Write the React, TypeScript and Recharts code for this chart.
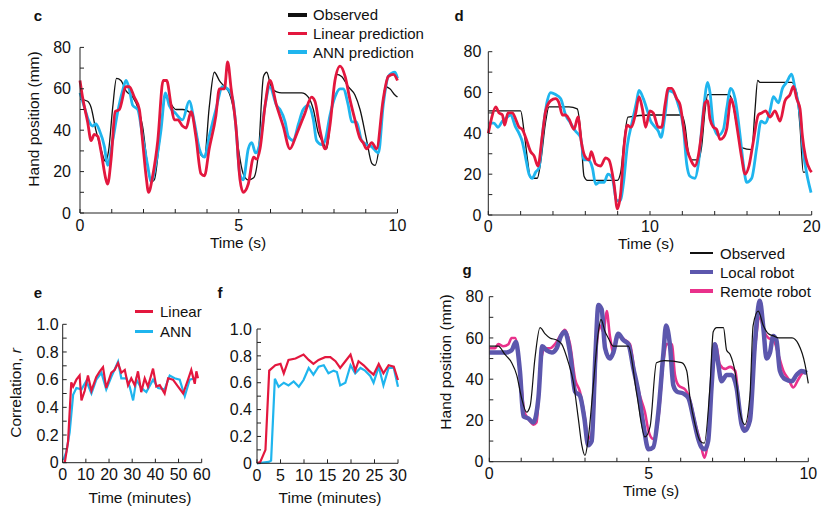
import React from 'react';
import { LineChart, Line, XAxis, YAxis, Legend } from 'recharts';

// ---- panel c: hand position, 10 s ----
const cObsT = [0, 0.24, 0.35, 0.5, 0.66, 0.8, 0.9, 1.03, 1.15, 1.29, 1.45, 1.66, 1.82, 1.97, 2.13, 2.24, 2.34, 2.5, 2.69, 2.81, 3.02, 3.23, 3.5, 3.65, 3.81, 3.92, 4.07, 4.23, 4.39, 4.55, 4.7, 4.86, 5.0, 5.14, 5.3, 5.47, 5.62, 5.78, 5.88, 6.04, 6.35, 6.98, 7.19, 7.35, 7.5, 7.66, 7.77, 7.93, 8.08, 8.24, 8.45, 8.66, 8.82, 9.03, 9.19, 9.29, 9.45, 9.61, 9.76, 9.92, 10];
const cObsV = [55, 54, 51, 40, 31, 25, 30, 51, 65, 64, 59, 56, 51, 42, 23, 15, 16, 34, 56, 54, 50, 50, 48, 40, 28, 27, 51, 68, 64, 61, 58, 48, 30, 19, 16, 17, 29, 66, 68, 60, 58, 58, 56, 50, 39, 34, 31, 51, 67, 66, 61, 57, 50, 35, 24, 23, 35, 61, 60, 57, 56];
const cLinT = [0, 0.08, 0.24, 0.35, 0.45, 0.56, 0.66, 0.82, 0.87, 0.98, 1.11, 1.24, 1.45, 1.55, 1.71, 1.87, 1.97, 2.08, 2.16, 2.29, 2.45, 2.62, 2.73, 2.87, 2.97, 3.08, 3.23, 3.34, 3.5, 3.65, 3.81, 3.92, 4.07, 4.28, 4.39, 4.55, 4.65, 4.76, 4.91, 5.04, 5.14, 5.3, 5.47, 5.57, 5.67, 5.83, 5.98, 6.19, 6.4, 6.61, 6.82, 7.08, 7.29, 7.4, 7.56, 7.72, 7.87, 8.03, 8.19, 8.35, 8.5, 8.66, 8.82, 8.92, 9.03, 9.19, 9.34, 9.55, 9.71, 9.87, 10];
const cLinV = [64, 56, 44, 35, 38, 37, 30, 16, 14, 26, 49, 50, 61, 61, 56, 50, 35, 18, 10, 18, 35, 64, 64, 52, 45, 45, 42, 41, 49, 37, 19, 18, 31, 47, 60, 60, 73, 60, 42, 16, 10, 14, 27, 26, 31, 52, 64, 52, 42, 31, 38, 48, 56, 54, 40, 31, 42, 64, 71, 66, 55, 45, 36, 34, 31, 34, 31, 55, 66, 67, 64];
const cAnnT = [0, 0.14, 0.29, 0.4, 0.5, 0.61, 0.77, 0.87, 1.03, 1.19, 1.34, 1.45, 1.55, 1.66, 1.82, 1.97, 2.13, 2.24, 2.39, 2.55, 2.69, 2.81, 3.02, 3.23, 3.44, 3.6, 3.76, 3.92, 4.07, 4.28, 4.49, 4.65, 4.81, 4.92, 5.03, 5.14, 5.3, 5.41, 5.53, 5.67, 5.83, 5.98, 6.19, 6.3, 6.46, 6.56, 6.72, 6.88, 7.03, 7.19, 7.35, 7.45, 7.61, 7.72, 7.87, 8.03, 8.19, 8.29, 8.45, 8.56, 8.71, 8.87, 9.03, 9.19, 9.4, 9.55, 9.71, 9.92, 10];
const cAnnV = [58, 51, 44, 42, 43, 40, 32, 23, 35, 49, 59, 64, 60, 52, 50, 37, 23, 15, 24, 40, 58, 52, 48, 45, 54, 44, 31, 27, 37, 50, 61, 60, 55, 40, 19, 16, 31, 34, 29, 34, 52, 61, 52, 50, 44, 37, 35, 43, 50, 52, 45, 35, 33, 35, 47, 56, 60, 60, 52, 44, 44, 35, 33, 32, 29, 52, 66, 68, 65];

// ---- panel d: hand position, 20 s ----
const dObsT = [0, 2.0, 2.21, 2.41, 2.62, 3.03, 3.24, 3.55, 3.75, 4.99, 5.5, 5.71, 5.92, 6.13, 7.98, 8.19, 8.39, 8.64, 10.04, 11.96, 12.16, 12.37, 12.58, 12.99, 13.2, 13.4, 13.57, 14.85, 15.05, 15.36, 15.67, 16.29, 16.49, 16.66, 16.8, 18.76, 19.07, 19.28, 19.48, 19.6];
const dObsV = [51, 51, 41, 28, 18, 18, 26, 46, 53, 53, 52, 41, 19, 17, 17, 21, 36, 48, 49, 49, 44, 31, 27, 27, 34, 51, 59, 59, 57, 44, 33, 32, 51, 66, 65, 65, 60, 43, 21, 21];
const dLinT = [0, 0.19, 0.46, 0.66, 0.87, 1.01, 1.22, 1.49, 1.69, 1.9, 2.1, 2.31, 2.62, 2.83, 3.07, 3.34, 3.55, 3.86, 4.16, 4.37, 4.58, 4.78, 4.99, 5.3, 5.55, 5.75, 5.96, 6.23, 6.37, 6.64, 6.94, 7.26, 7.46, 7.78, 7.98, 8.19, 8.39, 8.6, 8.81, 9.12, 9.32, 9.53, 9.73, 10.0, 10.2, 10.52, 10.72, 10.93, 11.13, 11.34, 11.65, 11.86, 12.06, 12.27, 12.58, 12.78, 12.99, 13.2, 13.4, 13.57, 13.71, 13.92, 14.12, 14.33, 14.54, 14.74, 15.01, 15.15, 15.42, 15.67, 15.88, 16.12, 16.39, 16.7, 16.91, 17.15, 17.42, 17.73, 18.04, 18.35, 18.66, 18.87, 19.07, 19.28, 19.42, 19.63, 19.9, 20];
const dLinV = [40, 47, 53, 50, 49, 44, 50, 50, 47, 43, 42, 38, 31, 29, 24, 39, 51, 56, 57, 55, 49, 49, 47, 42, 48, 36, 29, 27, 31, 25, 24, 28, 27, 15, 3, 11, 33, 44, 43, 50, 58, 52, 43, 51, 50, 43, 43, 54, 62, 62, 57, 54, 44, 33, 26, 24, 29, 41, 55, 56, 47, 43, 42, 37, 38, 42, 57, 54, 41, 28, 20, 24, 36, 49, 50, 51, 48, 51, 46, 56, 59, 63, 57, 52, 39, 28, 22, 21];
const dAnnT = [0, 0.35, 0.6, 0.87, 1.18, 1.38, 1.69, 1.9, 2.1, 2.31, 2.52, 2.72, 2.93, 3.13, 3.4, 3.65, 3.86, 4.16, 4.48, 4.78, 5.09, 5.4, 5.71, 5.92, 6.17, 6.44, 6.64, 6.85, 7.16, 7.4, 7.67, 7.94, 8.15, 8.35, 8.6, 8.91, 9.18, 9.32, 9.59, 9.84, 10.04, 10.21, 10.52, 10.68, 10.93, 11.13, 11.44, 11.75, 12.06, 12.27, 12.47, 12.78, 12.99, 13.3, 13.57, 13.71, 13.92, 14.23, 14.54, 14.74, 14.99, 15.26, 15.57, 15.77, 15.98, 16.29, 16.6, 16.87, 17.11, 17.42, 17.63, 17.94, 18.19, 18.45, 18.76, 18.97, 19.28, 19.48, 19.75, 19.96];
const dAnnV = [45, 45, 43, 46, 48, 49, 43, 40, 36, 28, 20, 18, 21, 23, 43, 56, 60, 59, 57, 49, 45, 41, 38, 27, 27, 23, 15, 16, 16, 20, 18, 7, 7, 15, 34, 46, 56, 61, 57, 51, 46, 44, 41, 38, 49, 61, 60, 54, 43, 25, 19, 18, 25, 51, 65, 60, 44, 39, 42, 52, 62, 57, 39, 25, 16, 18, 33, 46, 45, 51, 58, 55, 62, 65, 69, 62, 49, 31, 18, 11];

// ---- panel e: correlation, 60 min ----
const eLinT = [0.9, 2.3, 3.7, 4.5, 5.9, 7.3, 8.1, 9.5, 10.9, 12.4, 14.5, 16, 17.4, 18.8, 21, 22.4, 23.9, 25.3, 26.8, 28.2, 29.6, 31.1, 32.5, 33.9, 35.4, 36.8, 39, 40.4, 41.9, 44, 45.5, 47.6, 49.8, 52, 54.1, 55.5, 57, 57.7, 58.4];
const eLinV = [0, 0.15, 0.58, 0.55, 0.6, 0.63, 0.45, 0.52, 0.63, 0.52, 0.62, 0.66, 0.69, 0.54, 0.65, 0.67, 0.72, 0.65, 0.67, 0.56, 0.61, 0.56, 0.66, 0.51, 0.61, 0.55, 0.68, 0.55, 0.56, 0.5, 0.61, 0.6, 0.55, 0.5, 0.6, 0.67, 0.57, 0.66, 0.61];
const eAnnT = [0.3, 1.6, 3.0, 4.5, 5.9, 8.1, 10.2, 12.4, 14.5, 16.7, 18.8, 21, 23.9, 25.3, 27.5, 28.9, 30.4, 31.8, 33.9, 36.1, 39, 41.2, 44, 46.2, 48.3, 50.5, 52.7, 54.8, 57];
const eAnnV = [0.02, 0.08, 0.22, 0.49, 0.54, 0.53, 0.59, 0.5, 0.6, 0.65, 0.53, 0.62, 0.73, 0.61, 0.61, 0.55, 0.45, 0.6, 0.54, 0.51, 0.6, 0.54, 0.53, 0.63, 0.61, 0.6, 0.48, 0.6, 0.61];

// ---- panel f: correlation, 30 min ----
const fLinT = [0, 0.7, 1.8, 2.6, 3.9, 5.0, 5.7, 6.7, 8.2, 9.9, 11, 12, 13.1, 14.5, 15.6, 16.7, 17.7, 18.8, 19.9, 20.9, 21.6, 22.7, 23.8, 24.8, 25.9, 26.9, 28, 29.1, 30];
const fLinV = [0, 0.01, 0.1, 0.69, 0.73, 0.74, 0.67, 0.77, 0.78, 0.81, 0.77, 0.74, 0.77, 0.79, 0.79, 0.76, 0.71, 0.76, 0.81, 0.69, 0.76, 0.73, 0.69, 0.66, 0.74, 0.67, 0.73, 0.72, 0.62];
const fAnnT = [0, 2.5, 3.0, 3.8, 4.6, 5.7, 6.7, 7.8, 8.9, 9.9, 11, 12, 13.1, 14.2, 15.2, 16.3, 17, 17.7, 18.8, 19.9, 20.9, 22, 23, 24.1, 24.8, 25.9, 26.9, 28, 29.1, 30];
const fAnnV = [0, 0.01, 0.02, 0.63, 0.57, 0.6, 0.58, 0.61, 0.57, 0.62, 0.71, 0.66, 0.72, 0.73, 0.67, 0.69, 0.68, 0.58, 0.6, 0.73, 0.67, 0.71, 0.69, 0.65, 0.6, 0.72, 0.58, 0.71, 0.71, 0.57];

// ---- panel g: robots, 10 s ----
const gObsT = [0, 0.28, 0.49, 0.7, 0.86, 1.01, 1.17, 1.28, 1.43, 1.59, 1.75, 1.9, 2.11, 2.27, 2.48, 2.63, 2.79, 2.9, 3.0, 3.1, 3.26, 3.42, 3.5, 3.63, 3.73, 3.89, 4.36, 4.62, 4.88, 5.04, 5.24, 5.5, 6.03, 6.19, 6.29, 6.45, 6.61, 6.74, 6.92, 7.02, 7.13, 7.34, 7.44, 7.55, 7.71, 7.86, 8.01, 8.17, 8.27, 8.43, 8.59, 8.75, 8.91, 9.07, 9.49, 9.69, 9.9, 10];
const gObsV = [56, 56, 52, 48, 42, 31, 24, 27, 50, 65, 62, 60, 59, 57, 48, 39, 21, 8, 3, 11, 37, 63, 69, 63, 60, 56, 56, 33, 12, 17, 48, 49, 48, 44, 31, 18, 10, 9, 37, 63, 65, 65, 54, 52, 43, 24, 18, 32, 66, 73, 66, 62, 61, 60, 60, 57, 47, 38];
const gLocT = [0, 0.28, 0.54, 0.7, 0.83, 0.96, 1.07, 1.22, 1.38, 1.54, 1.66, 1.8, 1.96, 2.11, 2.25, 2.37, 2.53, 2.69, 2.84, 2.98, 3.1, 3.21, 3.33, 3.42, 3.52, 3.63, 3.78, 3.89, 4.04, 4.2, 4.36, 4.52, 4.67, 4.83, 4.99, 5.14, 5.3, 5.46, 5.54, 5.66, 5.77, 5.88, 6.09, 6.24, 6.4, 6.55, 6.65, 6.76, 6.86, 6.97, 7.07, 7.16, 7.28, 7.44, 7.6, 7.75, 7.91, 8.01, 8.17, 8.33, 8.48, 8.59, 8.69, 8.8, 8.9, 9.0, 9.11, 9.27, 9.48, 9.63, 9.79, 9.95];
const gLocV = [53, 53, 53, 54, 58, 44, 22, 21, 19, 31, 56, 54, 53, 55, 61, 63, 53, 34, 32, 21, 8, 10, 53, 76, 74, 55, 50, 53, 62, 59, 57, 45, 34, 18, 6, 7, 24, 53, 66, 57, 37, 34, 33, 31, 21, 11, 7, 6, 10, 37, 57, 49, 39, 42, 42, 36, 18, 15, 20, 58, 78, 65, 50, 53, 61, 59, 44, 40, 39, 42, 44, 43];
const gRemT = [0, 0.18, 0.28, 0.44, 0.6, 0.7, 0.81, 0.96, 1.1, 1.22, 1.38, 1.48, 1.62, 1.75, 1.9, 2.06, 2.22, 2.37, 2.53, 2.69, 2.84, 2.98, 3.1, 3.23, 3.37, 3.47, 3.58, 3.68, 3.78, 3.89, 4.04, 4.25, 4.41, 4.57, 4.72, 4.88, 4.99, 5.14, 5.3, 5.46, 5.56, 5.72, 5.82, 5.93, 6.14, 6.29, 6.45, 6.61, 6.74, 6.86, 6.97, 7.1, 7.23, 7.39, 7.55, 7.71, 7.86, 8.01, 8.17, 8.33, 8.48, 8.62, 8.75, 8.91, 9.06, 9.22, 9.38, 9.53, 9.69, 9.84, 9.95];
const gRemV = [55, 55, 57, 56, 57, 60, 60, 44, 24, 21, 18, 19, 49, 55, 55, 57, 61, 64, 57, 40, 34, 23, 11, 15, 57, 66, 63, 73, 61, 53, 61, 59, 57, 42, 32, 24, 15, 11, 21, 49, 57, 57, 42, 37, 35, 30, 19, 10, 2, 11, 36, 57, 47, 45, 46, 44, 23, 16, 23, 55, 70, 63, 60, 59, 52, 44, 40, 36, 40, 43, 43];

// ---- ticks ----
const handTicks = [0, 10, 20, 30, 40, 50, 60, 70, 80];
const tenSecTicks = [0, 1, 2, 3, 4, 5, 6, 7, 8, 9, 10];
const twentySecTicks = [0, 2, 4, 6, 8, 10, 12, 14, 16, 18, 20];
const corrTicks = [0, 0.1, 0.2, 0.3, 0.4, 0.5, 0.6, 0.7, 0.8, 0.9, 1.0];
const sixtyMinTicks = [0, 10, 20, 30, 40, 50, 60];
const thirtyMinTicks = [0, 5, 10, 15, 20, 25, 30];

const RED = '#e3173e';
const BLUE = '#1fb5ee';
const PURPLE = '#5c57ad';
const PINK = '#e9318b';
const BLACK = '#111';

const zip = (ts: number[], vs: number[]) => ts.map((t, i) => ({ t, v: vs[i] }));

const every = (n: number) => (v: number) => (Math.round(v) % n === 0 ? String(v) : '');
const corrFmt = (v: number) => {
  const k = Math.round(v * 10);
  if (k % 2) return '';
  return k === 0 ? '0' : (k / 10).toFixed(1);
};

const axisLine = { stroke: '#222', strokeWidth: 1 };
const tickFont = { fill: '#111', fontSize: 16 };

// legend rows drawn in a fixed order, swatch thickness per entry
function legendContent(order: string[], thick: number[], swatchW: number, gap: number, rowH: number) {
  return (props: any) => {
    const items = [...(props.payload || [])]
      .filter((p: any) => order.includes(p.value))
      .sort((a: any, b: any) => order.indexOf(a.value) - order.indexOf(b.value));
    return (
      <div>
        {items.map((it: any) => (
          <div key={it.value} style={{ display: 'flex', alignItems: 'center', height: rowH }}>
            <span style={{ display: 'inline-block', width: swatchW, height: thick[order.indexOf(it.value)], background: it.color, marginRight: gap }} />
            <span style={{ fontSize: 15, lineHeight: 1, color: '#111', whiteSpace: 'nowrap' }}>{it.value}</span>
          </div>
        ))}
      </div>
    );
  };
}

const Txt = ({ x, y, children, size = 15.5, bold = false, rotate = 0 }: any) => (
  <div
    style={{
      position: 'absolute',
      left: x,
      top: y,
      transform: `translate(-50%, -50%) rotate(${rotate}deg)`,
      fontSize: size,
      fontWeight: bold ? 700 : 400,
      lineHeight: 1,
      whiteSpace: 'nowrap',
      color: '#111',
    }}
  >
    {children}
  </div>
);

const box = (left: number, top: number): React.CSSProperties => ({ position: 'absolute', left, top });

export default function App() {
  return (
    <div
      style={{
        position: 'absolute',
        left: 0,
        top: 0,
        width: 824,
        height: 508,
        background: '#fff',
        fontFamily: '"Liberation Sans", Arial, Helvetica, sans-serif',
        overflow: 'hidden',
      }}
    >
      {/* c */}
      <div style={box(0, 0)}>
        <LineChart width={420} height={255} margin={{ top: 47.4, left: 40, right: 22.5, bottom: 12 }}>
          <XAxis type="number" dataKey="t" domain={[0, 10]} ticks={tenSecTicks} interval={0} tickFormatter={every(5)}
            height={30} tickSize={-4} tickMargin={11} axisLine={axisLine} tickLine={axisLine} tick={tickFont} />
          <YAxis type="number" domain={[0, 80]} ticks={handTicks} interval={0} tickFormatter={every(20)}
            width={40} tickSize={-4} tickMargin={13} axisLine={axisLine} tickLine={axisLine} tick={tickFont} />
          <Line data={zip(cObsT, cObsV)} dataKey="v" name="Observed" type="monotone" stroke={BLACK} strokeWidth={1.3} dot={false} activeDot={false} isAnimationActive={false} />
          <Line data={zip(cAnnT, cAnnV)} dataKey="v" name="ANN prediction" type="monotone" stroke={BLUE} strokeWidth={2.8} dot={false} activeDot={false} isAnimationActive={false} />
          <Line data={zip(cLinT, cLinV)} dataKey="v" name="Linear prediction" type="monotone" stroke={RED} strokeWidth={2.8} dot={false} activeDot={false} isAnimationActive={false} />
          <Legend layout="vertical" align="center" verticalAlign="middle"
            wrapperStyle={{ left: 288, top: 5.7, width: 'auto' }}
            content={legendContent(['Observed', 'Linear prediction', 'ANN prediction'], [3.5, 3.5, 3.5], 19, 6, 18.6)} />
        </LineChart>
      </div>

      {/* d */}
      <div style={box(420, 0)}>
        <LineChart width={404} height={255} margin={{ top: 51.7, left: 28.3, right: 12.3, bottom: 10 }}>
          <XAxis type="number" dataKey="t" domain={[0, 20]} ticks={twentySecTicks} interval={0} tickFormatter={every(10)}
            height={30} tickSize={-4} tickMargin={10} axisLine={axisLine} tickLine={axisLine} tick={tickFont} />
          <YAxis type="number" domain={[0, 80]} ticks={handTicks} interval={0} tickFormatter={every(20)}
            width={40} tickSize={-4} tickMargin={11} axisLine={axisLine} tickLine={axisLine} tick={tickFont} />
          <Line data={zip(dObsT, dObsV)} dataKey="v" name="Observed" type="monotone" stroke={BLACK} strokeWidth={1.3} dot={false} activeDot={false} isAnimationActive={false} />
          <Line data={zip(dAnnT, dAnnV)} dataKey="v" name="ANN prediction" type="monotone" stroke={BLUE} strokeWidth={2.8} dot={false} activeDot={false} isAnimationActive={false} />
          <Line data={zip(dLinT, dLinV)} dataKey="v" name="Linear prediction" type="monotone" stroke={RED} strokeWidth={2.8} dot={false} activeDot={false} isAnimationActive={false} />
        </LineChart>
      </div>

      {/* e */}
      <div style={box(0, 260)}>
        <LineChart width={215} height={248} margin={{ top: 64.3, left: 22.7, right: 13.3, bottom: 15.3 }}>
          <XAxis type="number" dataKey="t" domain={[0, 60]} ticks={sixtyMinTicks} interval={0}
            height={30} tickSize={-4} tickMargin={10} axisLine={axisLine} tickLine={axisLine} tick={tickFont} />
          <YAxis type="number" domain={[0, 1]} ticks={corrTicks} interval={0} tickFormatter={corrFmt}
            width={40} tickSize={-4} tickMargin={8} axisLine={axisLine} tickLine={axisLine} tick={tickFont} />
          <Line data={zip(eAnnT, eAnnV)} dataKey="v" name="ANN" type="linear" stroke={BLUE} strokeWidth={2.2} dot={false} activeDot={false} isAnimationActive={false} />
          <Line data={zip(eLinT, eLinV)} dataKey="v" name="Linear" type="linear" stroke={RED} strokeWidth={2.2} dot={false} activeDot={false} isAnimationActive={false} />
          <Legend layout="vertical" align="center" verticalAlign="middle"
            wrapperStyle={{ left: 135, top: 41.7, width: 'auto' }}
            content={legendContent(['Linear', 'ANN'], [3.5, 3.5], 18, 7, 20)} />
        </LineChart>
      </div>

      {/* f */}
      <div style={box(215, 260)}>
        <LineChart width={215} height={248} margin={{ top: 69, left: 2, right: 32, bottom: 14.7 }}>
          <XAxis type="number" dataKey="t" domain={[0, 30]} ticks={thirtyMinTicks} interval={0}
            height={30} tickSize={-4} tickMargin={10} axisLine={axisLine} tickLine={axisLine} tick={tickFont} />
          <YAxis type="number" domain={[0, 1]} ticks={corrTicks} interval={0} tickFormatter={corrFmt}
            width={40} tickSize={-4} tickMargin={9} axisLine={axisLine} tickLine={axisLine} tick={tickFont} />
          <Line data={zip(fAnnT, fAnnV)} dataKey="v" name="ANN" type="linear" stroke={BLUE} strokeWidth={2.2} dot={false} activeDot={false} isAnimationActive={false} />
          <Line data={zip(fLinT, fLinV)} dataKey="v" name="Linear" type="linear" stroke={RED} strokeWidth={2.2} dot={false} activeDot={false} isAnimationActive={false} />
        </LineChart>
      </div>

      {/* g */}
      <div style={box(430, 260)}>
        <LineChart width={394} height={248} margin={{ top: 36.7, left: 19.3, right: 15.7, bottom: 16.3 }}>
          <XAxis type="number" dataKey="t" domain={[0, 10]} ticks={tenSecTicks} interval={0} tickFormatter={every(5)}
            height={30} tickSize={-4} tickMargin={10} axisLine={axisLine} tickLine={axisLine} tick={tickFont} />
          <YAxis type="number" domain={[0, 80]} ticks={handTicks} interval={0} tickFormatter={every(20)}
            width={40} tickSize={-4} tickMargin={10} axisLine={axisLine} tickLine={axisLine} tick={tickFont} />
          <Line data={zip(gRemT, gRemV)} dataKey="v" name="Remote robot" type="monotone" stroke={PINK} strokeWidth={2.6} dot={false} activeDot={false} isAnimationActive={false} />
          <Line data={zip(gLocT, gLocV)} dataKey="v" name="Local robot" type="monotone" stroke={PURPLE} strokeWidth={4.5} dot={false} activeDot={false} isAnimationActive={false} />
          <Line data={zip(gObsT, gObsV)} dataKey="v" name="Observed" type="monotone" stroke={BLACK} strokeWidth={1.2} dot={false} activeDot={false} isAnimationActive={false} />
          <Legend layout="vertical" align="center" verticalAlign="middle"
            wrapperStyle={{ left: 260, top: -16.5, width: 'auto' }}
            content={legendContent(['Observed', 'Local robot', 'Remote robot'], [2, 4.5, 3.5], 23, 7, 19)} />
        </LineChart>
      </div>

      {/* panel letters */}
      <Txt x={38} y={15} size={15} bold>c</Txt>
      <Txt x={459} y={15} size={15} bold>d</Txt>
      <Txt x={38} y={292} size={15} bold>e</Txt>
      <Txt x={220} y={292} size={15} bold>f</Txt>
      <Txt x={467} y={269} size={15} bold>g</Txt>

      {/* axis titles */}
      <Txt x={238} y={242.5}>Time (s)</Txt>
      <Txt x={646} y={243.5}>Time (s)</Txt>
      <Txt x={140} y={498}>Time (minutes)</Txt>
      <Txt x={330} y={498}>Time (minutes)</Txt>
      <Txt x={651} y={491}>Time (s)</Txt>
      <Txt x={33.5} y={119} rotate={-90}>Hand position (mm)</Txt>
      <Txt x={445.5} y={361.7} rotate={-90}>Hand position (mm)</Txt>
      <Txt x={16} y={392.5} rotate={-90}>
        Correlation, <i>r</i>
      </Txt>
    </div>
  );
}
